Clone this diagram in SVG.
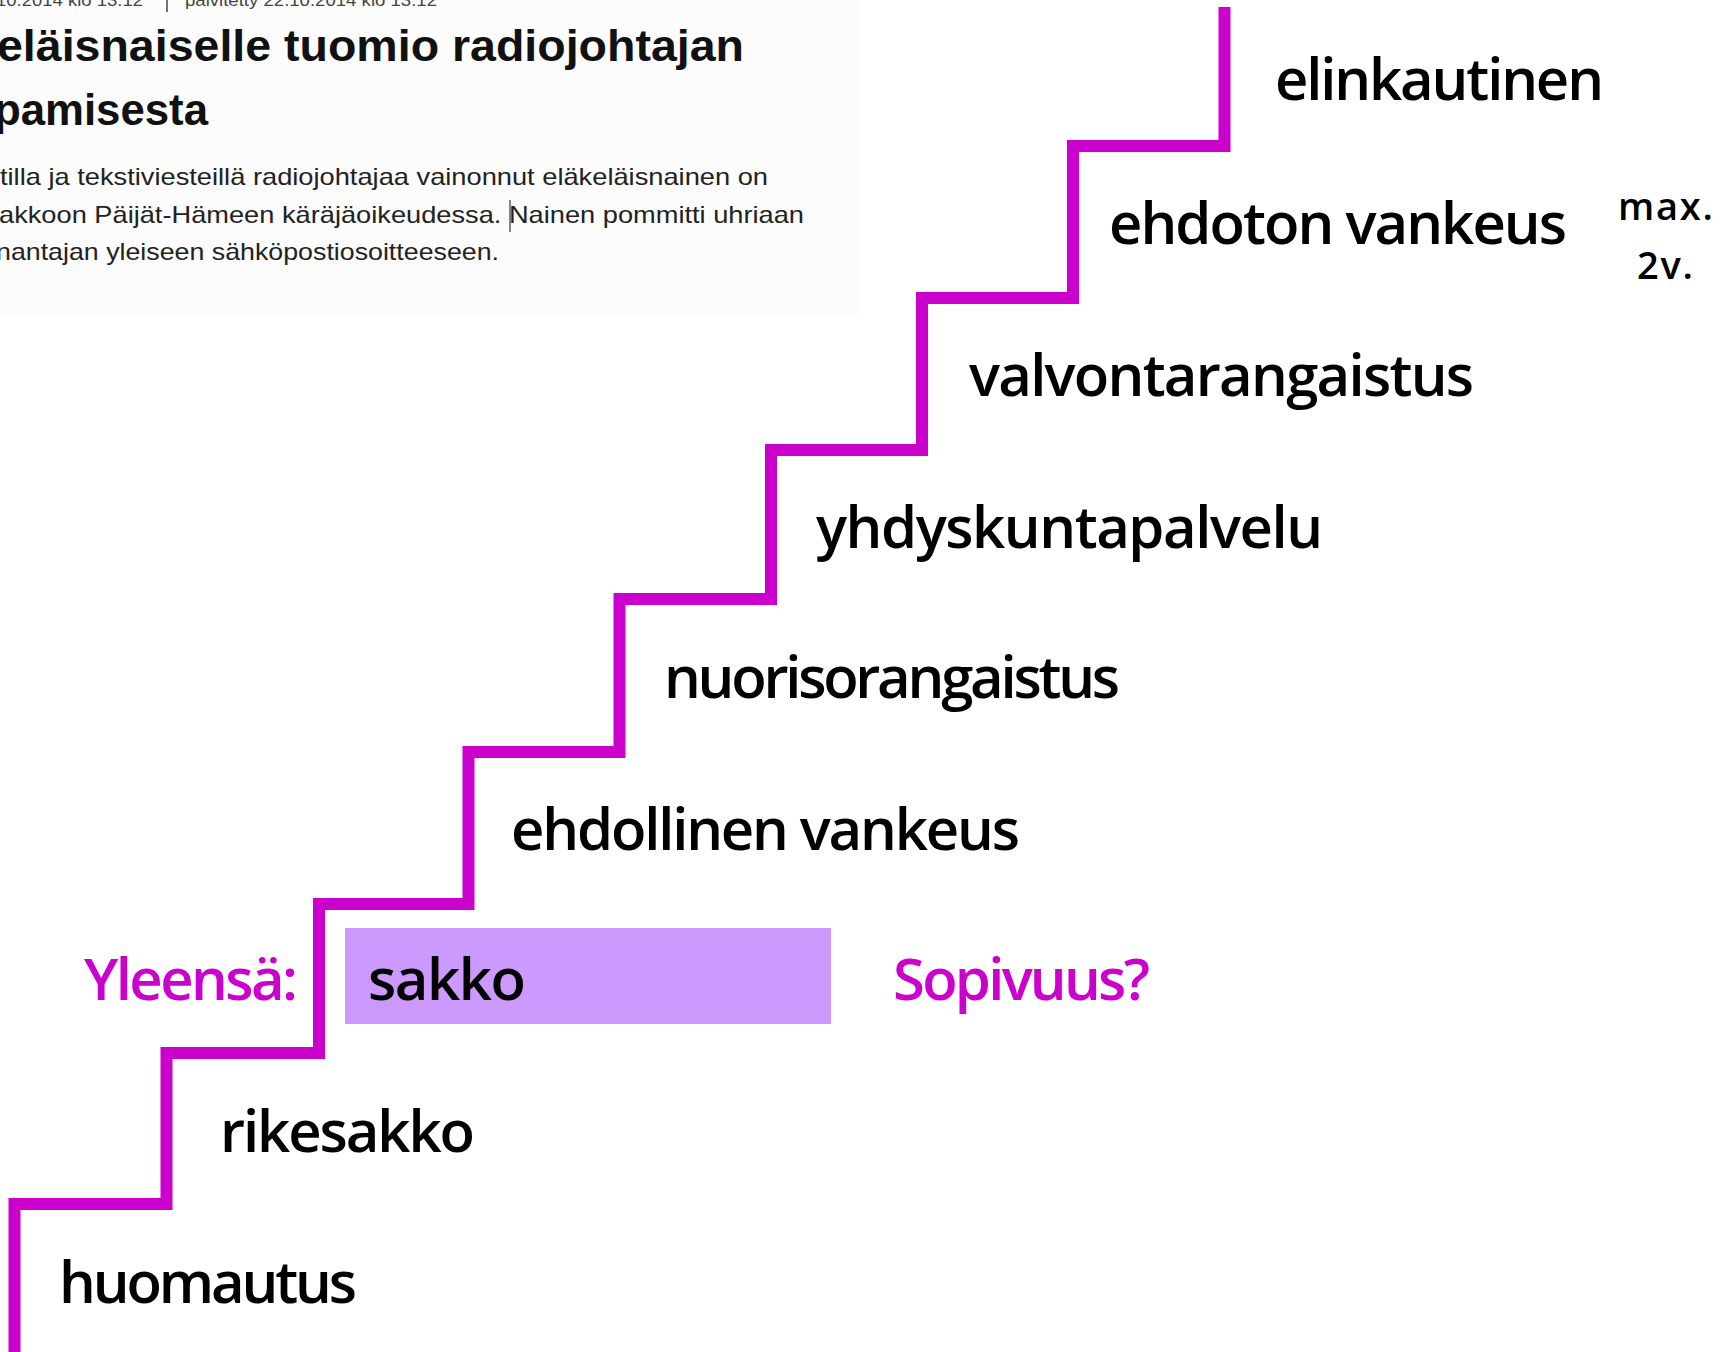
<svg xmlns="http://www.w3.org/2000/svg" width="1729" height="1352" viewBox="0 0 1729 1352">
<style>
.clip-meta{font-family:"Liberation Sans",Arial,sans-serif;font-size:17px;fill:#444}
.clip-title{font-family:"Liberation Sans",Arial,sans-serif;font-size:45px;font-weight:bold;fill:#111}
.clip-body{font-family:"Liberation Sans",Arial,sans-serif;font-size:24px;fill:#222}
.lbl{font-family:"Open Sans","Noto Sans",sans-serif;font-size:58px;font-weight:600;fill:#000}
.mag{fill:#CC00CC}
.small{font-family:"Open Sans","Noto Sans",sans-serif;font-size:38px;font-weight:600;fill:#000}
.stair{fill:none;stroke:#CC00CC;stroke-width:12;stroke-linejoin:miter;stroke-linecap:butt}
</style>
<rect width="1729" height="1352" fill="#FFFFFF"/>
<g id="clipping">
<rect x="0" y="0" width="858" height="316" fill="#FCFCFC"/>
<text class="clip-meta" x="-4" y="6" textLength="147" lengthAdjust="spacingAndGlyphs">10.2014 klo 13.12</text>
<line x1="167" y1="0" x2="167" y2="12" stroke="#444" stroke-width="1.5"/>
<text class="clip-meta" x="185" y="6" textLength="252" lengthAdjust="spacingAndGlyphs">päivitetty 22.10.2014 klo 13.12</text>
<text class="clip-title" x="-3" y="61" textLength="747" lengthAdjust="spacingAndGlyphs">eläisnaiselle tuomio radiojohtajan</text>
<text class="clip-title" x="-6" y="125" textLength="214" lengthAdjust="spacingAndGlyphs">pamisesta</text>
<text class="clip-body" x="0" y="185" textLength="768" lengthAdjust="spacingAndGlyphs">tilla ja tekstiviesteillä radiojohtajaa vainonnut eläkeläisnainen on</text>
<text class="clip-body" x="-1" y="223" textLength="805" lengthAdjust="spacingAndGlyphs">akkoon Päijät-Hämeen käräjäoikeudessa. Nainen pommitti uhriaan</text>
<text class="clip-body" x="-4" y="260" textLength="503" lengthAdjust="spacingAndGlyphs">nantajan yleiseen sähköpostiosoitteeseen.</text>
<line x1="510" y1="200" x2="510" y2="232" stroke="#333" stroke-width="1.2"/>
</g>
<g id="connectors">
<path class="stair" d="M14.5 1352 V1204 H166.5 V1053 H319 V904 H468.5 V752 H619.5 V599 H771 V450 H922 V298 H1073 V146 H1224.5 V7"/>
</g>
<g id="node-sakko-box">
<rect x="345" y="928" width="486" height="96" fill="#CC99FF"/>
<text class="lbl" x="368" y="1000" textLength="158">sakko</text>
</g>
<g id="node-huomautus"><text class="lbl" x="59" y="1303" textLength="298">huomautus</text></g>
<g id="node-rikesakko"><text class="lbl" x="220" y="1152" textLength="255">rikesakko</text></g>
<g id="node-yleensa"><text class="lbl mag" x="84" y="1000" textLength="214">Yleensä:</text></g>
<g id="node-sopivuus"><text class="lbl mag" x="893" y="1000" textLength="257">Sopivuus?</text></g>
<g id="node-ehdollinen"><text class="lbl" x="511" y="850" textLength="509">ehdollinen vankeus</text></g>
<g id="node-nuoriso"><text class="lbl" x="664" y="698" textLength="456">nuorisorangaistus</text></g>
<g id="node-yhdyskunta"><text class="lbl" x="816" y="548" textLength="507">yhdyskuntapalvelu</text></g>
<g id="node-valvonta"><text class="lbl" x="969" y="396" textLength="505">valvontarangaistus</text></g>
<g id="node-ehdoton"><text class="lbl" x="1109" y="244" textLength="458">ehdoton vankeus</text></g>
<g id="node-max"><text class="small" x="1618" y="220" textLength="95">max.</text><text class="small" x="1637" y="279" textLength="56">2v.</text></g>
<g id="node-elinkautinen"><text class="lbl" x="1275" y="100" textLength="329">elinkautinen</text></g>
</svg>
